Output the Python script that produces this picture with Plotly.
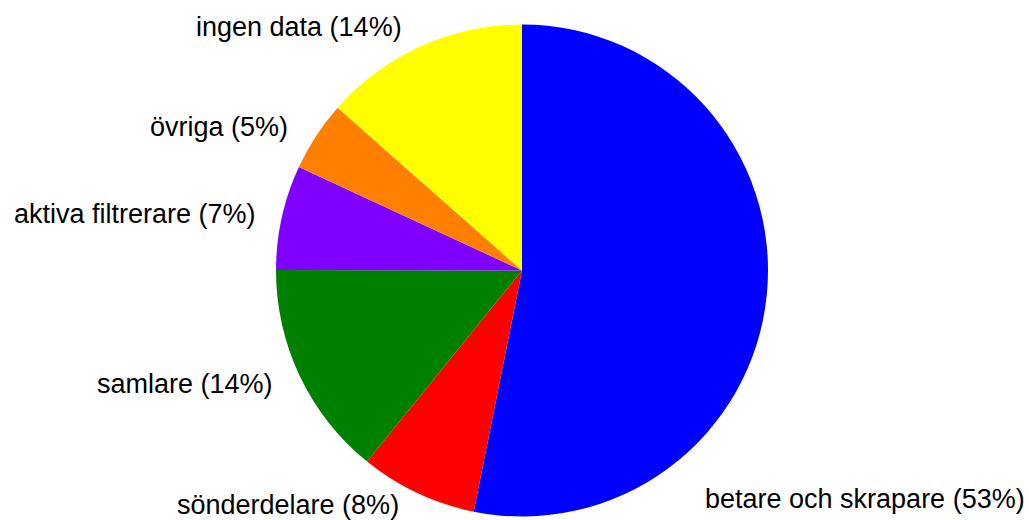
import plotly.graph_objects as go

labels = ["betare och skrapare", "sönderdelare", "samlare", "aktiva filtrerare", "övriga", "ingen data"]
values = [53.2, 7.7, 14.2, 6.9, 4.6, 13.5]
pct_text = [53, 8, 14, 7, 5, 14]
colors = ["#0000FF", "#FF0000", "#008000", "#8000FF", "#FF8000", "#FFFF00"]

W, H = 1029, 520
cx, cy, r = 522, 270.5, 246

# label placement (px in page): anchor x, center y, side
label_pos = [
    (703, 499, "left"),
    (401, 505, "right"),
    (275, 384, "right"),
    (258, 214, "right"),
    (290, 127, "right"),
    (404, 27, "right"),
]

fig = go.Figure(go.Pie(
    labels=labels,
    values=values,
    marker=dict(colors=colors, line=dict(width=0)),
    sort=False,
    direction="clockwise",
    rotation=0,
    textinfo="none",
    hoverinfo="label+percent",
    showlegend=False,
    domain=dict(x=[(cx - r) / W, (cx + r) / W], y=[(H - cy - r) / H, (H - cy + r) / H]),
))

for lab, p, (x, y, side) in zip(labels, pct_text, label_pos):
    fig.add_annotation(
        x=x / W, y=1 - y / H, xref="paper", yref="paper",
        text=f"{lab} ({p}%)", showarrow=False,
        xanchor=side, yanchor="middle",
        font=dict(family="Liberation Sans, Arial, sans-serif", size=27, color="#000000"),
    )

fig.update_layout(
    width=W, height=H,
    margin=dict(l=0, r=0, t=0, b=0),
    paper_bgcolor="white", plot_bgcolor="white",
)
fig.write_html(
    "out.html",
    config={"displayModeBar": False},
    post_script="document.body.style.margin='0';document.body.style.overflow='hidden';",
)
